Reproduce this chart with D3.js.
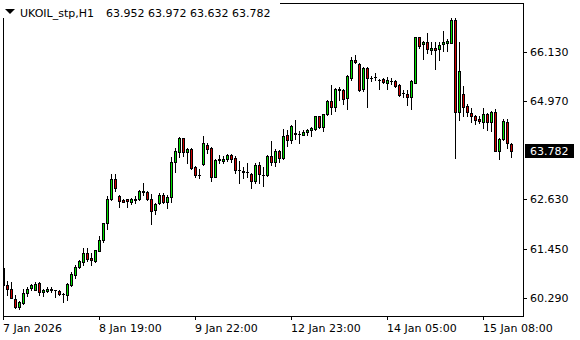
<!DOCTYPE html>
<html>
<head>
<meta charset="utf-8">
<script src="https://cdn.jsdelivr.net/npm/d3@7"></script>
<style>
  body { margin: 0; background: #fff; }
  svg text { font-family: "DejaVu Sans", sans-serif; font-size: 11px; fill: #000; }
</style>
</head>
<body>
<svg id="chart" width="580" height="340"></svg>
<script>
// hourly bars
var opens = [61.00,60.61,60.51,60.27,60.08,60.18,60.42,60.52,60.48,60.65,60.43,60.45,60.49,60.48,60.46,60.39,
  60.35,60.59,60.84,61.02,61.14,61.36,61.25,61.18,61.41,61.66,62.07,62.64,63.11,62.71,62.62,62.64,
  62.58,62.61,62.64,62.84,62.81,62.64,62.37,62.54,62.74,62.56,62.69,63.53,63.75,64.08,63.75,63.82,
  63.39,63.20,63.47,63.92,63.85,63.17,63.57,63.55,63.59,63.68,63.61,63.33,63.30,63.27,63.23,63.06,
  63.45,63.20,63.20,63.66,63.52,63.78,63.61,64.16,64.03,64.20,64.19,64.17,64.22,64.28,64.30,64.60,
  64.34,64.65,64.97,64.83,65.22,65.23,65.03,65.51,65.94,65.84,65.25,65.74,65.52,65.53,65.47,65.48,
  65.39,65.44,65.43,65.35,65.15,65.13,65.05,65.40,66.48,66.32,66.36,66.17,66.22,66.19,66.31,66.34,
  66.35,66.89,64.71,65.14,64.85,64.68,64.60,64.54,64.46,64.65,64.46,64.71,63.79,64.07,64.46,63.952];
var highs = [61.06,60.70,60.67,60.35,60.21,60.51,60.54,60.62,60.67,60.66,60.51,60.55,60.55,60.48,60.49,60.40,
  60.65,60.90,61.08,61.20,61.48,61.48,61.36,61.44,61.75,62.08,62.72,63.23,63.24,62.74,62.65,62.65,
  62.66,62.72,62.86,63.03,62.82,62.76,62.54,62.78,62.78,62.74,63.63,63.86,64.12,64.10,63.85,63.85,
  63.43,63.35,64.14,63.97,63.87,63.59,63.69,63.67,63.70,63.70,63.65,63.55,63.41,63.49,63.25,63.49,
  63.51,63.41,63.69,64.02,63.83,63.81,64.31,64.28,64.40,64.52,64.26,64.28,64.31,64.36,64.61,64.61,
  64.66,64.98,65.35,65.27,65.29,65.26,65.58,66.02,66.06,65.86,65.77,65.77,65.57,65.64,65.48,65.52,
  65.54,65.51,65.47,65.37,65.23,65.23,65.47,66.49,66.49,66.39,66.59,66.37,66.36,66.37,66.63,66.44,
  66.93,66.93,66.36,65.32,64.89,64.80,64.64,64.60,64.80,64.69,64.73,64.77,64.08,64.54,64.54,63.972];
var lows = [60.41,60.35,60.28,60.05,60.04,60.15,60.33,60.49,60.47,60.35,60.33,60.43,60.44,60.31,60.35,60.19,
  60.25,60.57,60.76,61.00,61.07,61.16,61.07,61.15,61.40,61.63,61.93,62.62,62.84,62.46,62.56,62.46,
  62.52,62.54,62.62,62.73,62.62,62.05,62.29,62.52,62.54,62.43,62.58,63.28,63.63,63.67,63.49,63.36,
  63.17,63.13,63.44,63.73,63.06,63.16,63.49,63.50,63.55,63.53,63.25,63.03,63.14,63.16,62.91,63.02,
  63.02,62.96,63.19,63.44,63.43,63.53,63.59,63.89,63.98,64.06,63.98,64.15,64.15,64.14,64.28,64.32,
  64.26,64.63,64.65,64.74,64.99,64.90,64.77,65.47,65.86,65.21,65.21,64.83,65.43,65.47,65.25,65.39,
  65.25,65.37,65.31,65.09,65.06,64.86,64.78,65.39,66.22,65.96,66.11,66.08,65.73,65.94,66.16,66.15,
  66.34,63.61,64.52,64.60,64.60,64.48,64.42,64.44,64.32,64.28,64.26,63.77,63.59,64.04,63.85,63.632];
var closes = [60.59,60.51,60.29,60.07,60.19,60.41,60.51,60.60,60.63,60.43,60.48,60.51,60.50,60.47,60.39,60.39,
  60.62,60.87,61.03,61.17,61.36,61.22,61.19,61.43,61.67,62.07,62.64,63.11,62.91,62.59,62.58,62.59,
  62.65,62.65,62.84,62.80,62.64,62.35,62.52,62.74,62.58,62.69,63.52,63.78,64.08,63.75,63.83,63.37,
  63.20,63.21,63.97,63.82,63.16,63.57,63.58,63.59,63.68,63.60,63.32,63.33,63.27,63.27,63.06,63.45,
  63.23,63.20,63.66,63.53,63.78,63.61,64.14,64.03,64.38,64.19,64.19,64.23,64.28,64.32,64.60,64.34,
  64.65,64.97,64.83,65.25,65.25,65.01,65.56,65.94,65.89,65.23,65.74,65.52,65.51,65.54,65.47,65.41,
  65.47,65.45,65.33,65.11,65.15,65.06,65.44,66.48,66.28,66.36,66.19,66.22,66.17,66.30,66.36,66.39,
  66.89,64.71,65.68,64.83,64.71,64.60,64.52,64.50,64.65,64.46,64.71,63.79,64.06,64.50,63.98,63.782];

var priceTicks = [60.290, 61.450, 62.630, 64.970, 66.130];
var lastPrice = 63.782;
var timeTickIdx = [0, 24, 48, 72, 96, 120];
var timeTickLabels = ["7 Jan 2026", "8 Jan 19:00", "9 Jan 22:00", "12 Jan 23:00", "14 Jan 05:00", "15 Jan 08:00"];
var symbol = "UKOIL_stp,H1";

var plot = {left: 3, top: 3, right: 523, bottom: 316};
var svg = d3.select('#chart').attr('shape-rendering', 'crispEdges');

var x = d3.scaleLinear().domain([0, opens.length - 1]).range([3, 511]);
var y = d3.scaleLinear().domain([60.290, 66.130]).range([298, 52]);

svg.append('defs').append('clipPath').attr('id', 'clip')
  .append('rect').attr('x', plot.left).attr('y', plot.top)
  .attr('width', plot.right - plot.left).attr('height', plot.bottom - plot.top);

var g = svg.append('g').attr('clip-path', 'url(#clip)');
var bars = opens.map(function(o, i) {
  return {i: i, o: o, h: highs[i], l: lows[i], c: closes[i]};
});

var candle = g.selectAll('g.candle').data(bars).enter().append('g').attr('class', 'candle');

// wicks
candle.append('rect')
  .attr('x', function(d) { return Math.round(x(d.i)); })
  .attr('width', 1)
  .attr('y', function(d) { return Math.round(y(d.h)); })
  .attr('height', function(d) { return Math.round(y(d.l)) - Math.round(y(d.h)) + 1; })
  .attr('fill', '#000');

// body outline
candle.append('rect')
  .attr('x', function(d) { return Math.round(x(d.i)) - 1; })
  .attr('width', 3)
  .attr('y', function(d) { return Math.round(y(Math.max(d.o, d.c))); })
  .attr('height', function(d) { return Math.round(y(Math.min(d.o, d.c))) - Math.round(y(Math.max(d.o, d.c))) + 1; })
  .attr('fill', '#000');

// body fill
candle.append('rect')
  .attr('x', function(d) { return Math.round(x(d.i)); })
  .attr('width', 1)
  .attr('y', function(d) { return Math.round(y(Math.max(d.o, d.c))) + 1; })
  .attr('height', function(d) {
    var h = Math.round(y(Math.min(d.o, d.c))) - Math.round(y(Math.max(d.o, d.c))) - 1;
    return Math.max(h, 0);
  })
  .attr('fill', function(d) { return d.c >= d.o ? '#00e000' : '#d00000'; });

// frame
svg.append('rect')
  .attr('x', plot.left + 0.5).attr('y', plot.top + 0.5)
  .attr('width', plot.right - plot.left).attr('height', plot.bottom - plot.top)
  .attr('fill', 'none').attr('stroke', '#000');

// price axis
svg.selectAll('line.ptick').data(priceTicks).enter().append('line')
  .attr('x1', plot.right).attr('x2', plot.right + 4)
  .attr('y1', function(d) { return Math.round(y(d)) + 0.5; })
  .attr('y2', function(d) { return Math.round(y(d)) + 0.5; })
  .attr('stroke', '#000');
svg.selectAll('text.plabel').data(priceTicks).enter().append('text')
  .attr('x', 530).attr('y', function(d) { return Math.round(y(d)) + 4; })
  .text(function(d) { return d.toFixed(3); });

// last price marker
var ly = Math.round(y(lastPrice));
svg.append('rect').attr('x', 525).attr('y', ly - 7).attr('width', 49).attr('height', 14).attr('fill', '#000');
svg.append('text').attr('x', 530).attr('y', ly + 4).style('fill', '#fff').text(lastPrice.toFixed(3));

// time axis
svg.selectAll('line.ttick').data(timeTickIdx).enter().append('line')
  .attr('x1', function(d) { return Math.round(x(d)) + 0.5; })
  .attr('x2', function(d) { return Math.round(x(d)) + 0.5; })
  .attr('y1', plot.bottom).attr('y2', plot.bottom + 4)
  .attr('stroke', '#000');
svg.selectAll('text.tlabel').data(timeTickIdx).enter().append('text')
  .attr('x', function(d) { return Math.round(x(d)); })
  .attr('y', 332)
  .text(function(d, i) { return timeTickLabels[i]; });

// header
var head = svg.append('g');
head.append('rect').attr('x', 0).attr('y', 0).attr('width', 280).attr('height', 18).attr('fill', '#fff');
head.append('path').attr('d', 'M5,9 L15,9 L10,14 Z').attr('fill', '#000').attr('shape-rendering', 'auto');
head.append('text').attr('x', 20).attr('y', 16.5).text(symbol);
head.append('text').attr('x', 106).attr('y', 16.5)
  .text([opens[opens.length - 1], highs[highs.length - 1], lows[lows.length - 1], closes[closes.length - 1]]
    .map(function(v) { return v.toFixed(3); }).join(' '));
</script>
</body>
</html>
